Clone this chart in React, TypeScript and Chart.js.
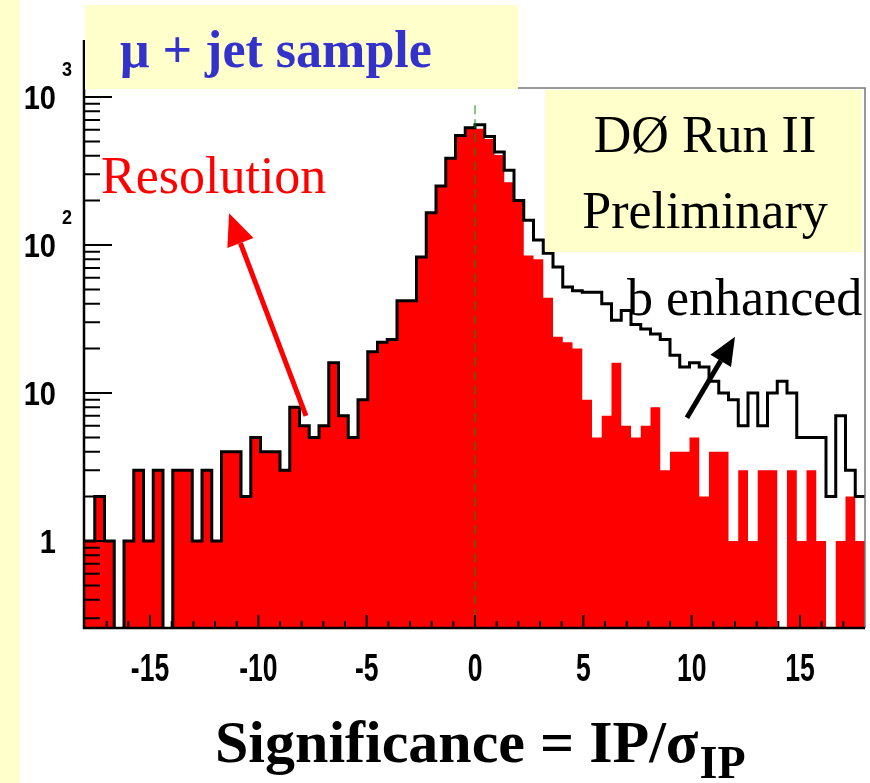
import React, { useEffect, useRef } from 'react';
import { Chart, registerables } from 'chart.js';

Chart.register(...registerables);

// ---------------- data ----------------
const X_MIN = -18;
const X_MAX = 18;
const N_BINS = 80;

// black outline histogram ("b enhanced")
const B_ENHANCED = [
  1, 2, 1, 0, 1, 3, 1, 3, 0, 3,
  3, 1, 3, 1, 4, 4, 2, 5, 4, 4,
  3, 8, 6, 5, 6, 16, 7, 5, 9, 19,
  22, 23, 42, 42, 83, 165, 250, 385, 550, 620,
  650, 540, 425, 320, 200, 147, 108, 88, 71, 52,
  49, 48, 48, 40, 31, 36, 29, 27, 25, 23,
  18, 15, 16, 15, 12, 10, 9, 6, 10, 6,
  10, 12, 10, 5, 5, 5, 2, 7, 3, 2,
];

// red filled histogram ("Resolution")
const RESOLUTION = [
  1, 2, 1, 0, 1, 3, 1, 3, 0, 3,
  3, 1, 3, 1, 4, 4, 2, 5, 4, 4,
  3, 8, 6, 5, 6, 16, 7, 5, 9, 19,
  22, 23, 42, 42, 83, 165, 250, 385, 550, 620,
  610, 520, 405, 265, 200, 85, 80, 44, 24, 22,
  20, 9, 5, 7, 16, 6, 5, 6, 8, 3,
  4, 4, 5, 2, 4, 4, 1, 3, 1, 3,
  3, 0, 3, 1, 3, 1, 0, 1, 2, 1,
];

const X_TICK_LABELS = [-15, -10, -5, 0, 5, 10, 15];
const X_MINOR_TICKS = [-17, -16, -14, -13, -12, -11, -9, -8, -7, -6, -4, -3, -2, -1,
  1, 2, 3, 4, 6, 7, 8, 9, 11, 12, 13, 14, 16, 17];

const Y_MIN = 0.258;
const Y_MAX = 1150;
const Y_TICK_VALUES = [1, 10, 100, 1000];
const Y_TICK_BASES = ['1', '10', '10', '10'];
const Y_TICK_EXPONENTS = ['', '', '2', '3'];
const Y_DECADES = [0.1, 1, 10, 100, 1000];
const Y_MANTISSAS = [1, 2, 3, 4, 5, 6, 7, 8, 9];

// annotations in data coordinates
const ZERO_LINE_TOP = 880;
const RED_ARROW = { from: [-7.8, 7.0], to: [-11.35, 164] };
const BLACK_ARROW = { from: [9.78, 6.8], to: [12.0, 24] };

// ---------------- helpers ----------------
const PALE = 'rgb(255,255,204)';
const FLOOR = 1e-3;

function stepPoints(vals: number[]) {
  const w = (X_MAX - X_MIN) / N_BINS;
  const pts = vals.map((v, i) => ({ x: X_MIN + i * w, y: v > 0 ? v : FLOOR }));
  const last = vals[vals.length - 1];
  pts.push({ x: X_MAX, y: last > 0 ? last : FLOOR });
  return pts;
}

function drawText(ctx: CanvasRenderingContext2D, s: string, x: number, y: number, font: string,
  color: string, align: CanvasTextAlign = 'left', sx = 1) {
  ctx.save();
  ctx.font = font;
  ctx.fillStyle = color;
  ctx.textAlign = align;
  ctx.textBaseline = 'alphabetic';
  ctx.translate(x, y);
  ctx.scale(sx, 1);
  ctx.fillText(s, 0, 0);
  ctx.restore();
}

function drawArrow(ctx: CanvasRenderingContext2D, x0: number, y0: number, x1: number, y1: number,
  color: string, width: number, headLen: number, headHalf: number) {
  const ang = Math.atan2(y1 - y0, x1 - x0);
  const bx = x1 - headLen * Math.cos(ang);
  const by = y1 - headLen * Math.sin(ang);
  ctx.save();
  ctx.strokeStyle = color;
  ctx.fillStyle = color;
  ctx.lineWidth = width;
  ctx.lineCap = 'butt';
  ctx.beginPath();
  ctx.moveTo(x0, y0);
  ctx.lineTo(bx, by);
  ctx.stroke();
  ctx.beginPath();
  ctx.moveTo(x1, y1);
  ctx.lineTo(bx + headHalf * Math.sin(ang), by - headHalf * Math.cos(ang));
  ctx.lineTo(bx - headHalf * Math.sin(ang), by + headHalf * Math.cos(ang));
  ctx.closePath();
  ctx.fill();
  ctx.restore();
}

const decorPlugin = {
  id: 'decor',
  beforeDraw(chart: any) {
    const { ctx, width, height } = chart;
    ctx.save();
    ctx.fillStyle = '#ffffff';
    ctx.fillRect(0, 0, width, height);
    ctx.fillStyle = PALE;
    ctx.fillRect(0, 0, 20, height);
    ctx.restore();
  },
  afterDatasetsDraw(chart: any) {
    const { ctx, chartArea: a } = chart;
    const xs = chart.scales.x;
    const ys = chart.scales.y;

    // dashed zero line
    ctx.save();
    ctx.strokeStyle = 'rgba(0,150,0,0.5)';
    ctx.lineWidth = 2;
    ctx.setLineDash([9, 5]);
    const zx = xs.getPixelForValue(0);
    ctx.beginPath();
    ctx.moveTo(zx, ys.getPixelForValue(ZERO_LINE_TOP));
    ctx.lineTo(zx, a.bottom);
    ctx.stroke();
    ctx.restore();

    // ticks
    ctx.save();
    ctx.strokeStyle = '#000';
    ctx.lineWidth = 2;
    ctx.beginPath();
    X_TICK_LABELS.forEach((v) => {
      const px = xs.getPixelForValue(v);
      ctx.moveTo(px, a.bottom);
      ctx.lineTo(px, a.bottom - 13);
    });
    X_MINOR_TICKS.forEach((v) => {
      const px = xs.getPixelForValue(v);
      ctx.moveTo(px, a.bottom);
      ctx.lineTo(px, a.bottom - 7);
    });
    Y_DECADES.forEach((d) => {
      Y_MANTISSAS.forEach((m) => {
        const v = m * d;
        if (v < Y_MIN || v > Y_MAX) return;
        const py = ys.getPixelForValue(v);
        ctx.moveTo(a.left, py);
        ctx.lineTo(a.left + (m === 1 ? 27 : 15), py);
      });
    });
    ctx.stroke();
    ctx.restore();

    // frame
    ctx.save();
    ctx.strokeStyle = '#777';
    ctx.lineWidth = 1.5;
    ctx.beginPath();
    ctx.moveTo(a.left, a.top);
    ctx.lineTo(a.right, a.top);
    ctx.lineTo(a.right, a.bottom);
    ctx.stroke();
    ctx.strokeStyle = '#000';
    ctx.lineWidth = 2.5;
    ctx.beginPath();
    ctx.moveTo(a.left - 1, a.top - 48);
    ctx.lineTo(a.left - 1, a.bottom);
    ctx.lineTo(a.right, a.bottom);
    ctx.stroke();
    ctx.restore();

    // x tick labels
    X_TICK_LABELS.forEach((v) => {
      drawText(ctx, String(v), xs.getPixelForValue(v), a.bottom + 53,
        'bold 39px "Liberation Sans", Arial, sans-serif', '#000', 'center', 0.68);
    });
    // y tick labels
    Y_TICK_VALUES.forEach((v, i) => {
      const py = ys.getPixelForValue(v);
      drawText(ctx, Y_TICK_BASES[i], a.left - 29, py + 12,
        'bold 33px "Liberation Sans", Arial, sans-serif', '#000', 'right', 0.88);
      if (Y_TICK_EXPONENTS[i]) {
        drawText(ctx, Y_TICK_EXPONENTS[i], a.left - 23, py - 21,
          'bold 20px "Liberation Sans", Arial, sans-serif', '#000', 'left', 0.9);
      }
    });

    // arrows
    drawArrow(ctx, xs.getPixelForValue(RED_ARROW.from[0]), ys.getPixelForValue(RED_ARROW.from[1]),
      xs.getPixelForValue(RED_ARROW.to[0]), ys.getPixelForValue(RED_ARROW.to[1]), '#ff0000', 5, 32, 14);
    drawArrow(ctx, xs.getPixelForValue(BLACK_ARROW.from[0]), ys.getPixelForValue(BLACK_ARROW.from[1]),
      xs.getPixelForValue(BLACK_ARROW.to[0]), ys.getPixelForValue(BLACK_ARROW.to[1]), '#000000', 5, 28, 12);

    // boxes
    ctx.save();
    ctx.fillStyle = PALE;
    ctx.fillRect(85, 5, 433, 84);
    ctx.fillRect(545, 90, 317, 162);
    ctx.restore();

    const serif = '"Liberation Serif", "Times New Roman", serif';
    drawText(ctx, '\u03bc + jet sample', 120, 67, `bold 52px ${serif}`, '#3333cc');
    drawText(ctx, 'D\u00d8 Run II', 705, 152, `52px ${serif}`, '#000', 'center');
    drawText(ctx, 'Preliminary', 705, 228, `52px ${serif}`, '#000', 'center');
    drawText(ctx, 'Resolution', 101, 193, `52px ${serif}`, '#ff0000');
    drawText(ctx, 'b enhanced', 627, 315, `52px ${serif}`, '#000');

    // axis title
    ctx.save();
    ctx.font = `bold 60px ${serif}`;
    const main = 'Significance = IP/\u03c3';
    const w = ctx.measureText(main).width;
    ctx.restore();
    drawText(ctx, main, 215, 762, `bold 60px ${serif}`, '#000');
    drawText(ctx, 'IP', 215 + w + 1, 778, `bold 46px ${serif}`, '#000');
  },
};

export default function App() {
  const ref = useRef<HTMLCanvasElement | null>(null);

  useEffect(() => {
    if (!ref.current) return;
    const chart = new Chart(ref.current, {
      type: 'line',
      data: {
        datasets: [
          {
            label: 'b enhanced',
            data: stepPoints(B_ENHANCED),
            stepped: 'before',
            borderColor: '#000000',
            borderWidth: 3,
            borderJoinStyle: 'miter',
            borderCapStyle: 'butt',
            fill: false,
            pointRadius: 0,
            pointHoverRadius: 0,
            order: 0,
          },
          {
            label: 'Resolution',
            data: stepPoints(RESOLUTION),
            stepped: 'before',
            borderColor: 'rgba(0,0,0,0)',
            borderWidth: 0,
            backgroundColor: '#ff0000',
            fill: 'start',
            pointRadius: 0,
            pointHoverRadius: 0,
            order: 1,
          },
        ],
      } as any,
      options: {
        animation: false,
        responsive: false,
        maintainAspectRatio: false,
        events: [],
        layout: { padding: { left: 85, right: 5, top: 88, bottom: 155 } },
        plugins: {
          legend: { display: false },
          tooltip: { enabled: false },
          title: { display: false },
          filler: { drawTime: 'beforeDatasetsDraw' },
        },
        scales: {
          x: { type: 'linear', min: X_MIN, max: X_MAX, display: false },
          y: { type: 'logarithmic', min: Y_MIN, max: Y_MAX, display: false },
        },
      } as any,
      plugins: [decorPlugin],
    });
    return () => chart.destroy();
  }, []);

  return (
    <div style={{ position: 'fixed', left: 0, top: 0, width: 870, height: 783 }}>
      <canvas ref={ref} width={870} height={783} style={{ display: 'block' }} />
    </div>
  );
}
